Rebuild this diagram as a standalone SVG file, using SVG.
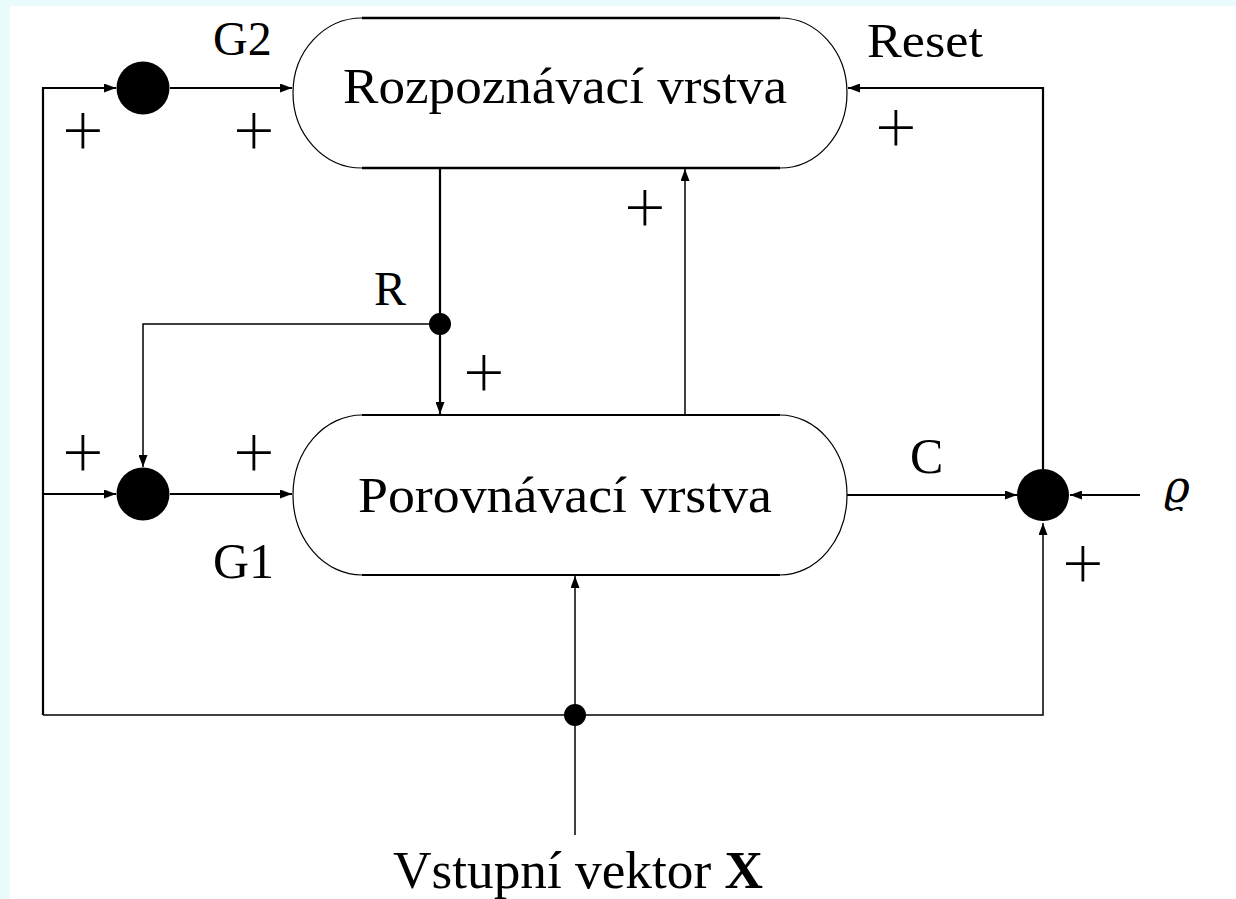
<svg xmlns="http://www.w3.org/2000/svg" width="1236" height="899" viewBox="0 0 1236 899">
<style>
.t{font-family:"Liberation Serif","Times New Roman",serif;fill:#000}
.plus{font-family:"Lato","Liberation Serif",serif;font-weight:300;font-size:72px;text-anchor:middle;fill:#000}
.thick{fill:none;stroke:#000;stroke-width:2.2}
.thin{fill:none;stroke:#000;stroke-width:1.5}
.arc{fill:#fff;stroke:#000;stroke-width:1.2}
.edge{stroke:#000;fill:none}
</style>
<defs>
<marker id="arr" markerUnits="userSpaceOnUse" markerWidth="13" markerHeight="9" refX="12" refY="4.5" orient="auto">
<path d="M0,0 L12,4.5 L0,9 Z" fill="#000"/>
</marker>
</defs>
<rect x="0" y="0" width="1236" height="899" fill="#e9fbfb"/>
<rect x="10" y="6" width="1226" height="893" fill="#ffffff"/>

<g id="connectors">
<path class="thick" d="M43,715 L43,88 L116,88" marker-end="url(#arr)"/>
<path class="thick" d="M170,88 L292,88" marker-end="url(#arr)"/>
<path class="thick" d="M1043,469 L1043,88 L848,88" marker-end="url(#arr)"/>
<path class="thick" d="M440,168 L440,414" marker-end="url(#arr)"/>
<path class="thin" d="M440,324 L143,324 L143,467" marker-end="url(#arr)"/>
<path class="thick" d="M43,494 L116,494" marker-end="url(#arr)"/>
<path class="thick" d="M170,494 L292,494" marker-end="url(#arr)"/>
<path class="thin" d="M685,415 L685,169" marker-end="url(#arr)"/>
<path class="thick" d="M847,495 L1017,495" marker-end="url(#arr)"/>
<path class="thick" d="M1140,495 L1070,495" marker-end="url(#arr)"/>
<path class="thin" d="M43,715 L1043,715 L1043,523" marker-end="url(#arr)"/>
<path class="thin" d="M575,835 L575,576" marker-end="url(#arr)"/>
<circle cx="440" cy="324" r="11" fill="#000"/>
<circle cx="575" cy="715" r="11" fill="#000"/>
</g>

<g id="node-rozpoznavaci">
<path class="arc" d="M362,18 L780,18 A67,75 0 0 1 780,168 L362,168 A69,75 0 0 1 362,18 Z"/>
<line class="edge" x1="362" y1="18" x2="780" y2="18" stroke-width="2.6"/>
<line class="edge" x1="362" y1="168" x2="780" y2="168" stroke-width="2.6"/>
<text class="t" x="565" y="103" font-size="50" text-anchor="middle" textLength="444" lengthAdjust="spacingAndGlyphs">Rozpoznávací vrstva</text>
</g>

<g id="node-porovnavaci">
<path class="arc" d="M362,415 L780,415 A67,80 0 0 1 780,575 L362,575 A69,80 0 0 1 362,415 Z"/>
<line class="edge" x1="362" y1="415" x2="780" y2="415" stroke-width="1.8"/>
<line class="edge" x1="362" y1="575" x2="780" y2="575" stroke-width="1.8"/>
<text class="t" x="565" y="512" font-size="50" text-anchor="middle" textLength="414" lengthAdjust="spacingAndGlyphs">Porovnávací vrstva</text>
</g>

<g id="node-g2">
<circle cx="143" cy="88" r="26.5" fill="#000"/>
<text class="t" x="213" y="55" font-size="48">G2</text>
</g>

<g id="node-g1">
<circle cx="143" cy="494" r="26.5" fill="#000"/>
<text class="t" x="213" y="578" font-size="50">G1</text>
</g>

<g id="node-reset">
<circle cx="1043" cy="495" r="26" fill="#000"/>
</g>

<g id="labels">
<text class="t" x="867" y="57" font-size="48" textLength="116" lengthAdjust="spacingAndGlyphs">Reset</text>
<text class="t" x="374" y="305" font-size="48">R</text>
<text class="t" x="910" y="473" font-size="50">C</text>
<text x="1164" y="502" font-size="44" font-style="italic" font-family="'DejaVu Serif','Liberation Serif',serif">ϱ</text>
<text class="t" x="578" y="888" font-size="52" text-anchor="middle" textLength="370" lengthAdjust="spacingAndGlyphs">Vstupní vektor <tspan font-weight="bold">X</tspan></text>
<text class="plus" x="83" y="155">+</text>
<text class="plus" x="254" y="155">+</text>
<text class="plus" x="896" y="152">+</text>
<text class="plus" x="645" y="232">+</text>
<text class="plus" x="484" y="397">+</text>
<text class="plus" x="83" y="477">+</text>
<text class="plus" x="254" y="477">+</text>
<text class="plus" x="1083" y="588">+</text>
</g>
</svg>
